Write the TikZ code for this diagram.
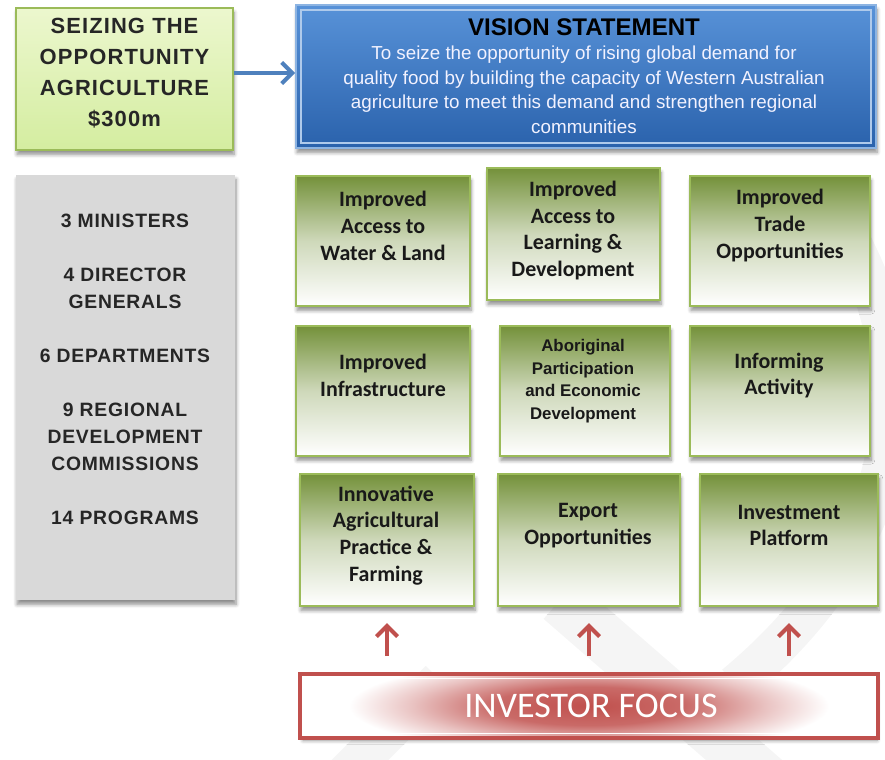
\documentclass[tikz,border=0pt]{standalone}
\usepackage{fontspec}
\setmainfont{Liberation Sans}
\newfontfamily\calfont{Carlito}
\usetikzlibrary{positioning,shadows,shadows.blur,arrows.meta}
\definecolor{leafgreen}{RGB}{116,145,58}
\definecolor{edgegreen}{RGB}{155,187,89}
\definecolor{limetop}{RGB}{236,247,206}
\definecolor{limebot}{RGB}{212,237,160}
\definecolor{visiontop}{RGB}{88,146,216}
\definecolor{visionbot}{RGB}{42,98,172}
\definecolor{visionedge}{RGB}{141,180,226}
\definecolor{investred}{RGB}{192,80,77}
\definecolor{panelgrey}{RGB}{217,217,217}
\definecolor{flowblue}{RGB}{79,129,189}
\definecolor{markgrey}{RGB}{245,245,245}
\pgfdeclareradialshading{investglow}{\pgfpoint{0bp}{0bp}}{color(0bp)=(investred);
	color(6bp)=(investred!85!white); color(11bp)=(investred!35!white);
	color(15bp)=(white); color(50bp)=(white)}
\tikzset{softshadow/.style={blur shadow={shadow xshift=0.6pt,shadow yshift=-2.5pt,shadow blur steps=6,shadow opacity=45}},
	 boxsize/.style 2 args={minimum width=#1*0.02cm,minimum height=#2*0.02cm,inner sep=0pt},
	 greenbox/.style={rectangle,draw=edgegreen,line width=1.3pt,top color=leafgreen,bottom color=white,middle color=leafgreen!35!white,softshadow},
	 gtext/.style={align=center,text=black!90,font=\calfont\bfseries\fontsize{12.5}{15.3}\selectfont},
	 seizebox/.style={rectangle,draw=edgegreen,line width=1.3pt,top color=limetop,bottom color=limebot,softshadow},
	 seizetext/.style={align=center,text=black!85,font=\bfseries\addfontfeatures{LetterSpace=5}\fontsize{12.5}{17.6}\selectfont},
	 visionbox/.style={rectangle,draw=visionedge,line width=1pt,top color=visiontop,bottom color=visionbot,softshadow},
	 visiontext/.style={align=center,text=white!95!blue,font=\fontsize{10.7}{13.9}\selectfont},
	 panel/.style={rectangle,fill=panelgrey,softshadow},
	 paneltext/.style={align=center,text=black!85,font=\bfseries\addfontfeatures{LetterSpace=4}\fontsize{11}{15.36}\selectfont},
	 investbox/.style={rectangle,draw=investred,line width=2.2pt,fill=white,softshadow},
	 blueflow/.style={draw=flowblue,line width=2.3pt,-{Straight Barb[length=6pt,width=12pt]}},
	 redflow/.style={draw=investred,line width=2.3pt,-{Straight Barb[length=6pt,width=12pt]},
			 shorten <=18*0.02cm,shorten >=16*0.02cm}
	 }
\begin{document}
\begin{tikzpicture}[x=0.02cm,y=-0.02cm] % Seizing the Opportunity Agriculture
	\useasboundingbox (0,0) rectangle (885,760);
	% faint watermark behind the boxes
	\begin{scope}
	\clip (0,0) rectangle (885,760);
	\draw[markgrey,line width=50*0.02cm] (560,600) -- (790,800);
	\draw[markgrey,line width=40*0.02cm] (850,240) .. controls (935,400) and (885,560) .. (735,685);
	\draw[markgrey,line width=40*0.02cm] (330,790) -- (440,680);
	\end{scope}

	\node[seizebox,boxsize={217}{142}] (seize) at (124.5,79) {};
	\node[seizetext] (seizeT) at (124.5,73.5) {SEIZING THE\\OPPORTUNITY\\AGRICULTURE\\\$300m};
	\node[visionbox,boxsize={580}{143}] (vision) at (586,76.5) {};
	\draw[visionedge!70!white,line width=0.8pt] ([shift={(6,6)}]vision.north west) rectangle ([shift={(-6,-6)}]vision.south east);
	\node[visiontext] (visionT) at (584,76) {{\color{black}\bfseries\fontsize{13.7}{14}\selectfont VISION STATEMENT}\\
		To seize the opportunity of rising global demand for\\
		quality food by building the capacity of Western Australian\\
		agriculture to meet this demand and strengthen regional\\
		communities};
	\draw[blueflow] ([yshift=0.12cm]seize.east) -- ([yshift=0.12cm]seize.east -| vision.west);

	\node[panel,boxsize={219}{425}] (panel) at (125.5,387.5) {};
	\node[paneltext] (panelT) at (125,369) {3 MINISTERS\\[15.36pt]4 DIRECTOR\\GENERALS\\[15.36pt]6 DEPARTMENTS\\[15.36pt]9 REGIONAL\\DEVELOPMENT\\COMMISSIONS\\[15.36pt]14 PROGRAMS};

	% nine programme boxes
	\node[greenbox,boxsize={174}{130}] (water) at (383,241) {};
	\node[greenbox,boxsize={173}{132}] (learning) at (573.5,234) {};
	\node[greenbox,boxsize={180}{130}] (trade) at (780,241) {};
	\node[greenbox,boxsize={174}{130}] (infra) at (383,391) {};
	\node[greenbox,boxsize={170}{130}] (aboriginal) at (585,391) {};
	\node[greenbox,boxsize={180}{130}] (informing) at (780,391) {};
	\node[greenbox,boxsize={174}{132}] (farming) at (387,540) {};
	\node[greenbox,boxsize={182}{132}] (export) at (589,540) {};
	\node[greenbox,boxsize={178}{132}] (investment) at (789,540) {};
	\node[gtext] (waterT) at (383,225.5) {Improved\\Access to\\Water \& Land};
	\node[gtext] (learningT) at (573,230.5) {Improved\\Access to\\Learning \&\\Development};
	\node[gtext] (tradeT) at (780,225.5) {Improved\\Trade\\Opportunities};
	\node[gtext] (infraT) at (383,375.5) {Improved\\Infrastructure};
	\node[align=center,text=black!90,font=\bfseries\fontsize{9.6}{12.8}\selectfont] (aboriginalT) at (583,381) {Aboriginal\\Participation\\and Economic\\Development};
	\node[gtext] (informingT) at (779,375.5) {Informing\\Activity};
	\node[gtext] (farmingT) at (386,535.5) {Innovative\\Agricultural\\Practice \&\\Farming};
	\node[gtext] (exportT) at (588,525.5) {Export\\Opportunities};
	\node[gtext] (investmentT) at (789,525.5) {Investment\\Platform};

	\node[investbox,boxsize={574}{60}] (invest) at (589,706) {};
	\begin{scope}
	\clip (invest.north west) rectangle (invest.south east);
	\shade[shading=investglow] (invest.center) ellipse (8cm and 1.6cm);
	\end{scope}
	\draw[investred,line width=2.2pt] (invest.north west) rectangle (invest.south east);
	\draw[white,line width=0.6pt] ([shift={(4,4)}]invest.north west) rectangle ([shift={(-4,-4)}]invest.south east);
	\node[text=white,font=\calfont\fontsize{20.5}{24}\selectfont] (investT) at (591,706) {INVESTOR FOCUS};
	\draw[redflow] (invest.north -| farming.south) -- (farming.south);
	\draw[redflow] (invest.north -| export.south) -- (export.south);
	\draw[redflow] (invest.north -| investment.south) -- (investment.south);
\end{tikzpicture}
\end{document}
